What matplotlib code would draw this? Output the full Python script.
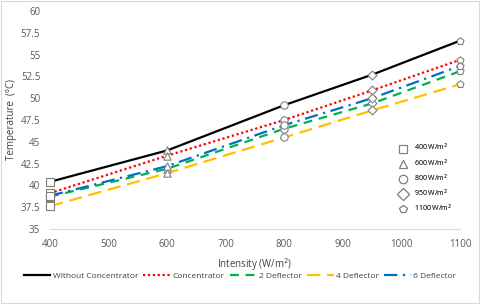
import matplotlib
matplotlib.use("Agg")
import matplotlib.pyplot as plt
from matplotlib.lines import Line2D

plt.rcParams['font.family'] = ['Open Sans', 'DejaVu Sans']

intensity = [400, 600, 800, 950, 1100]
without_conc = [40.4, 44.0, 49.2, 52.7, 56.6]
concentrator = [39.1, 43.4, 47.5, 50.9, 54.4]
deflector2 = [38.7, 41.9, 46.5, 49.4, 53.1]
deflector4 = [37.6, 41.4, 45.5, 48.6, 51.6]
deflector6 = [38.8, 42.2, 46.9, 50.0, 53.7]

series_names = ['Without Concentrator', 'Concentrator', '2 Deflector', '4 Deflector', '6 Deflector']
marker_labels = ['400 W/m$^2$', '600 W/m$^2$', '800 W/m$^2$', '950 W/m$^2$', '1100 W/m$^2$']
point_markers = ['s', '^', 'o', 'D', 'p']

fig = plt.figure(figsize=(4.8, 3.04), dpi=100)
ax = fig.add_axes([0.104, 0.247, 0.855, 0.717])

styles = [
    dict(color='black', lw=1.6, ls='-'),
    dict(color='#ff0000', lw=1.6, ls=(0, (1, 1.2))),
    dict(color='#00b050', lw=1.6, ls=(0, (4, 3))),
    dict(color='#ffc000', lw=1.6, ls=(0, (6, 3))),
    dict(color='#0070c0', lw=1.6, ls=(0, (6, 2.5, 1, 2.5))),
]
all_series = [without_conc, concentrator, deflector2, deflector4, deflector6]

line_handles = []
for vals, st, name in zip(all_series, styles, series_names):
    h, = ax.plot(intensity, vals, label=name, zorder=2, **st)
    line_handles.append(h)

for i, m in enumerate(point_markers):
    ys = [s[i] for s in all_series]
    ax.scatter([intensity[i]] * len(ys), ys, marker=m, s=28 if m != 'D' else 20,
               facecolor='white', edgecolor='#7f7f7f', linewidth=0.8, zorder=3,
               clip_on=False)

ax.set_xlim(400, 1100)
ax.set_ylim(35, 60)
ax.set_yticks([35, 37.5, 40, 42.5, 45, 47.5, 50, 52.5, 55, 57.5, 60])
ax.set_yticklabels(['35', '37.5', '40', '42.5', '45', '47.5', '50', '52.5', '55', '57.5', '60'])
ax.set_xticks(range(400, 1101, 100))
for s in ['top', 'right', 'left']:
    ax.spines[s].set_visible(False)
ax.spines['bottom'].set_color('#d9d9d9')
ax.tick_params(axis='both', length=0, labelsize=7, colors='#595959', pad=7)
ax.set_xlabel('Intensity (W/m$^2$)', fontsize=7, color='#404040', labelpad=5)
ax.set_ylabel('Temperature  (°C)', fontsize=7, color='#404040', labelpad=3)

marker_handles = [Line2D([], [], ls='none', marker=m, markersize=6,
                         markerfacecolor='white', markeredgecolor='#7f7f7f',
                         markeredgewidth=0.8) for m in point_markers]
leg1 = ax.legend(marker_handles, marker_labels, loc='lower right',
                 bbox_to_anchor=(0.995, 0.04), frameon=False, fontsize=5,
                 labelspacing=0.55, handletextpad=0.6, labelcolor='#404040')
ax.add_artist(leg1)

fig.legend(line_handles, series_names, loc='center', bbox_to_anchor=(0.5, 0.092),
           ncol=5, frameon=False, fontsize=6, handlelength=3.2, columnspacing=0.6,
           handletextpad=0.3, labelcolor='#404040')

fig.patches.append(plt.Rectangle((0.003, 0.003), 0.994, 0.994, transform=fig.transFigure,
                                 fill=False, edgecolor='#d9d9d9', lw=0.8))

fig.savefig('out.png', dpi=100)
